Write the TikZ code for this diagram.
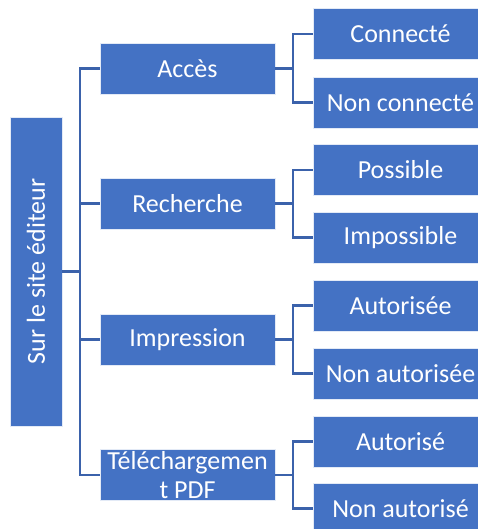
\documentclass[tikz,border=0pt]{standalone}
\usepackage{fontspec}
\setmainfont{Carlito}
\definecolor{boxblue}{HTML}{4472C4}
\definecolor{lineblue}{HTML}{3B62AB}
\begin{document}
\begin{tikzpicture}[x=1pt,y=-1pt,
  box/.style={rectangle, fill=boxblue, draw=white!85!boxblue, line width=0.8pt,
    text=white, font=\fontsize{26}{29}\selectfont, inner sep=0pt,
    minimum width=175pt, minimum height=51pt},
  conn/.style={draw=lineblue, line width=2.4pt}]
\clip (0,0) rectangle (478,529);
\fill[white] (0,0) rectangle (478,529);
% root
\node[box, minimum width=52pt, minimum height=309pt] (root) at (36,271.5) {};
\node[text=white, font=\fontsize{26}{29}\selectfont, rotate=90, inner sep=0pt] (roottext) at (root.center) {Sur le site éditeur};
% middle level
\node[box] (m1) at (187.5,68.5) {Accès};
\node[box] (m2) at (187.5,203.5) {Recherche};
\node[box] (m3) at (187.5,339.5) {Impression};
\node[box, align=center] (m4) at (187.5,475) {Téléchargemen\\t PDF};
% leaves
\node[box] (l1) at (400.5,34) {Connecté};
\node[box] (l2) at (400.5,102.5) {Non connecté};
\node[box] (l3) at (400.5,170) {Possible};
\node[box] (l4) at (400.5,237.5) {Impossible};
\node[box] (l5) at (400.5,305.5) {Autorisée};
\node[box] (l6) at (400.5,373.5) {Non autorisée};
\node[box] (l7) at (400.5,441.5) {Autorisé};
\node[box] (l8) at (400.5,508.5) {Non autorisé};
% connectors
\coordinate (bus) at (80,271.5);
\draw[conn] (root.east) -- (bus);
\foreach \m in {m1,m2,m3,m4} {\draw[conn] (bus) |- (\m.west);}
\coordinate (b1) at (293,68.5);
\coordinate (b2) at (293,203.5);
\coordinate (b3) at (293,339.5);
\coordinate (b4) at (293,475);
\draw[conn] (m1.east) -- (b1); \draw[conn] (b1) |- (l1.west); \draw[conn] (b1) |- (l2.west);
\draw[conn] (m2.east) -- (b2); \draw[conn] (b2) |- (l3.west); \draw[conn] (b2) |- (l4.west);
\draw[conn] (m3.east) -- (b3); \draw[conn] (b3) |- (l5.west); \draw[conn] (b3) |- (l6.west);
\draw[conn] (m4.east) -- (b4); \draw[conn] (b4) |- (l7.west); \draw[conn] (b4) |- (l8.west);
\end{tikzpicture}
\end{document}
